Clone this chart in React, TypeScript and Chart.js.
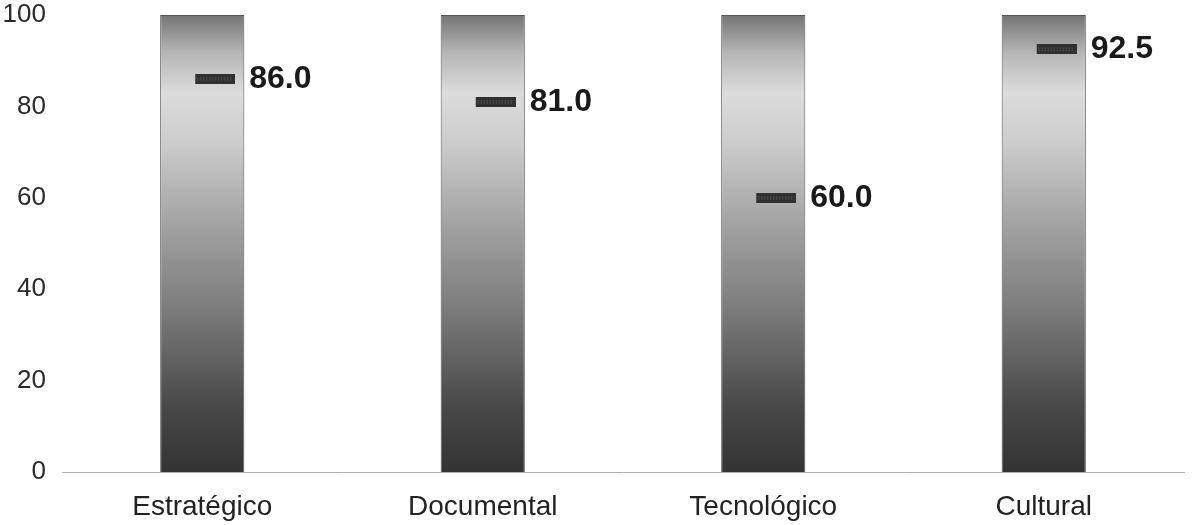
import React, { useEffect, useRef } from "react";
import { Chart, registerables } from "chart.js";

Chart.register(...registerables);

const categories = ["Estratégico", "Documental", "Tecnológico", "Cultural"];
const fullBar = [100, 100, 100, 100];
const scores = [86.0, 81.0, 60.0, 92.5];
const yTicks = [0, 20, 40, 60, 80, 100];

function makeDash(): HTMLCanvasElement {
  const c = document.createElement("canvas");
  c.width = 66;
  c.height = 10;
  const ctx = c.getContext("2d")!;
  ctx.fillStyle = "#303030";
  ctx.fillRect(26, 0, 40, 10);
  ctx.fillStyle = "rgba(110,110,110,0.45)";
  for (let x = 28; x < 64; x += 3) ctx.fillRect(x, 3, 1, 4);
  return c;
}

const labelPlugin = {
  id: "scoreLabels",
  afterDatasetsDraw(chart: any) {
    const meta = chart.getDatasetMeta(1);
    const ctx = chart.ctx;
    ctx.save();
    ctx.font = "bold 32px 'Liberation Sans', Arial, sans-serif";
    ctx.fillStyle = "#1a1a1a";
    ctx.textAlign = "left";
    ctx.textBaseline = "middle";
    meta.data.forEach((pt: any, i: number) => {
      ctx.fillText(scores[i].toFixed(1), pt.x + 47, pt.y);
    });
    ctx.restore();
  },
};

export default function App() {
  const ref = useRef<HTMLCanvasElement>(null);
  useEffect(() => {
    document.body.style.margin = "0";
    const dash = makeDash();
    const chart = new Chart(ref.current!, {
      type: "bar",
      data: {
        labels: categories,
        datasets: [
          {
            type: "bar",
            data: fullBar,
            barPercentage: 0.3,
            categoryPercentage: 1.0,
            borderColor: "#555",
            borderWidth: 1,
            borderSkipped: "bottom",
            backgroundColor: (c: any) => {
              const area = c.chart.chartArea;
              if (!area) return "#999";
              const g = c.chart.ctx.createLinearGradient(0, area.bottom, 0, area.top);
              g.addColorStop(0.0, "#333333");
              g.addColorStop(0.15, "#4a4a4a");
              g.addColorStop(0.35, "#7a7a7a");
              g.addColorStop(0.55, "#a4a4a4");
              g.addColorStop(0.72, "#cccccc");
              g.addColorStop(0.83, "#dcdcdc");
              g.addColorStop(0.92, "#b4b4b4");
              g.addColorStop(1.0, "#747474");
              return g;
            },
            order: 2,
          },
          {
            type: "line",
            data: scores,
            showLine: false,
            pointStyle: dash as any,
            pointRadius: 10,
            order: 1,
          } as any,
        ],
      },
      options: {
        responsive: false,
        animation: false,
        layout: { padding: { top: 15, right: 12, bottom: 0, left: 0 } },
        plugins: { legend: { display: false }, tooltip: { enabled: false } },
        scales: {
          x: {
            grid: { display: false },
            border: { display: true, color: "#b0b0b0", dash: [2, 2], width: 1 },
            afterFit: (s: any) => {
              s.height = 53;
            },
            ticks: {
              color: "#222",
              padding: 10,
              font: { family: "'Liberation Sans', Arial, sans-serif", size: 28 },
            },
          },
          y: {
            min: 0,
            max: 100,
            grid: { display: false },
            border: { display: false },
            afterFit: (s: any) => {
              s.width = 62;
              s.paddingTop = 0;
              s.paddingBottom = 0;
            },
            afterBuildTicks: (s: any) => {
              s.ticks = yTicks.map((v) => ({ value: v }));
            },
            ticks: {
              color: "#2a2a2a",
              padding: 8,
              font: { family: "'Liberation Sans', Arial, sans-serif", size: 26 },
            },
          },
        },
      },
      plugins: [labelPlugin],
    });
    return () => chart.destroy();
  }, []);
  return (
    <div style={{ width: 1196, height: 525 }}>
      <canvas ref={ref} width={1196} height={525} />
    </div>
  );
}
